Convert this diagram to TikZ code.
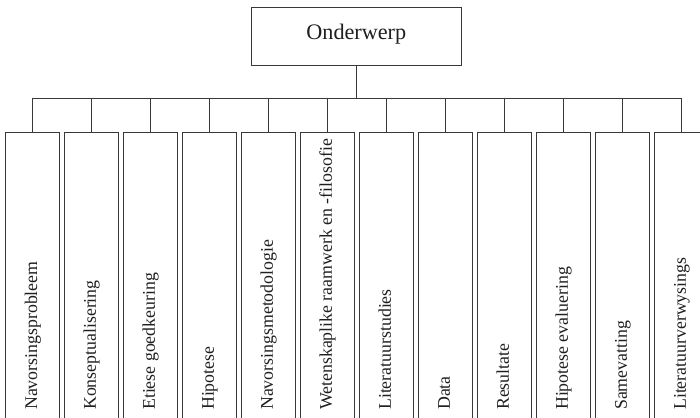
\documentclass[tikz,border=0pt]{standalone}
\usepackage{fontspec}
\setmainfont{Liberation Serif}
\begin{document}
\begin{tikzpicture}[x=1pt,y=-1pt,
  ln/.style={draw=black!78, line width=0.9pt},
  topbox/.style={ln, rectangle, minimum width=210.7pt, minimum height=57.7pt, inner sep=0pt,
     font=\fontsize{22.2}{26}\selectfont, text=black!88, text height=15pt, text depth=8.8pt},
  itembox/.style={ln, rectangle, minimum width=53.3pt, minimum height=300pt, inner sep=0pt, anchor=north},
  itemtext/.style={rotate=90, anchor=base west, inner sep=0pt, font=\fontsize{17.8}{20}\selectfont, text=black!88}]
\useasboundingbox (0,0) rectangle (700,417);
\clip (0,0) rectangle (700,417);
\fill[white] (0,0) rectangle (700,417);
\node[topbox] (top) at (356.3,36.2) {Onderwerp};
\coordinate (hub) at (356.3,98.5);
\foreach \i/\t in {0/Navorsingsprobleem,1/Konseptualisering,2/Etiese goedkeuring,3/Hipotese,4/Navorsingsmetodologie,5/Wetenskaplike raamwerk en -filosofie,6/Literatuurstudies,7/Data,8/Resultate,9/Hipotese evaluering,10/Samevatting,11/Literatuurverwysings}{
  \pgfmathsetmacro{\cx}{32.5+58.98*\i}
  \node[itembox] (b\i) at (\cx,132.3) {};
  \coordinate (j\i) at (\cx,98.5);
  \node[itemtext] (t\i) at (\cx+4.5,410) {\t};
  \draw[ln] (j\i) -- (b\i.north);
}
\draw[ln] (top.south) -- (hub);
\draw[ln] (j0) -- (j11);
\end{tikzpicture}
\end{document}
